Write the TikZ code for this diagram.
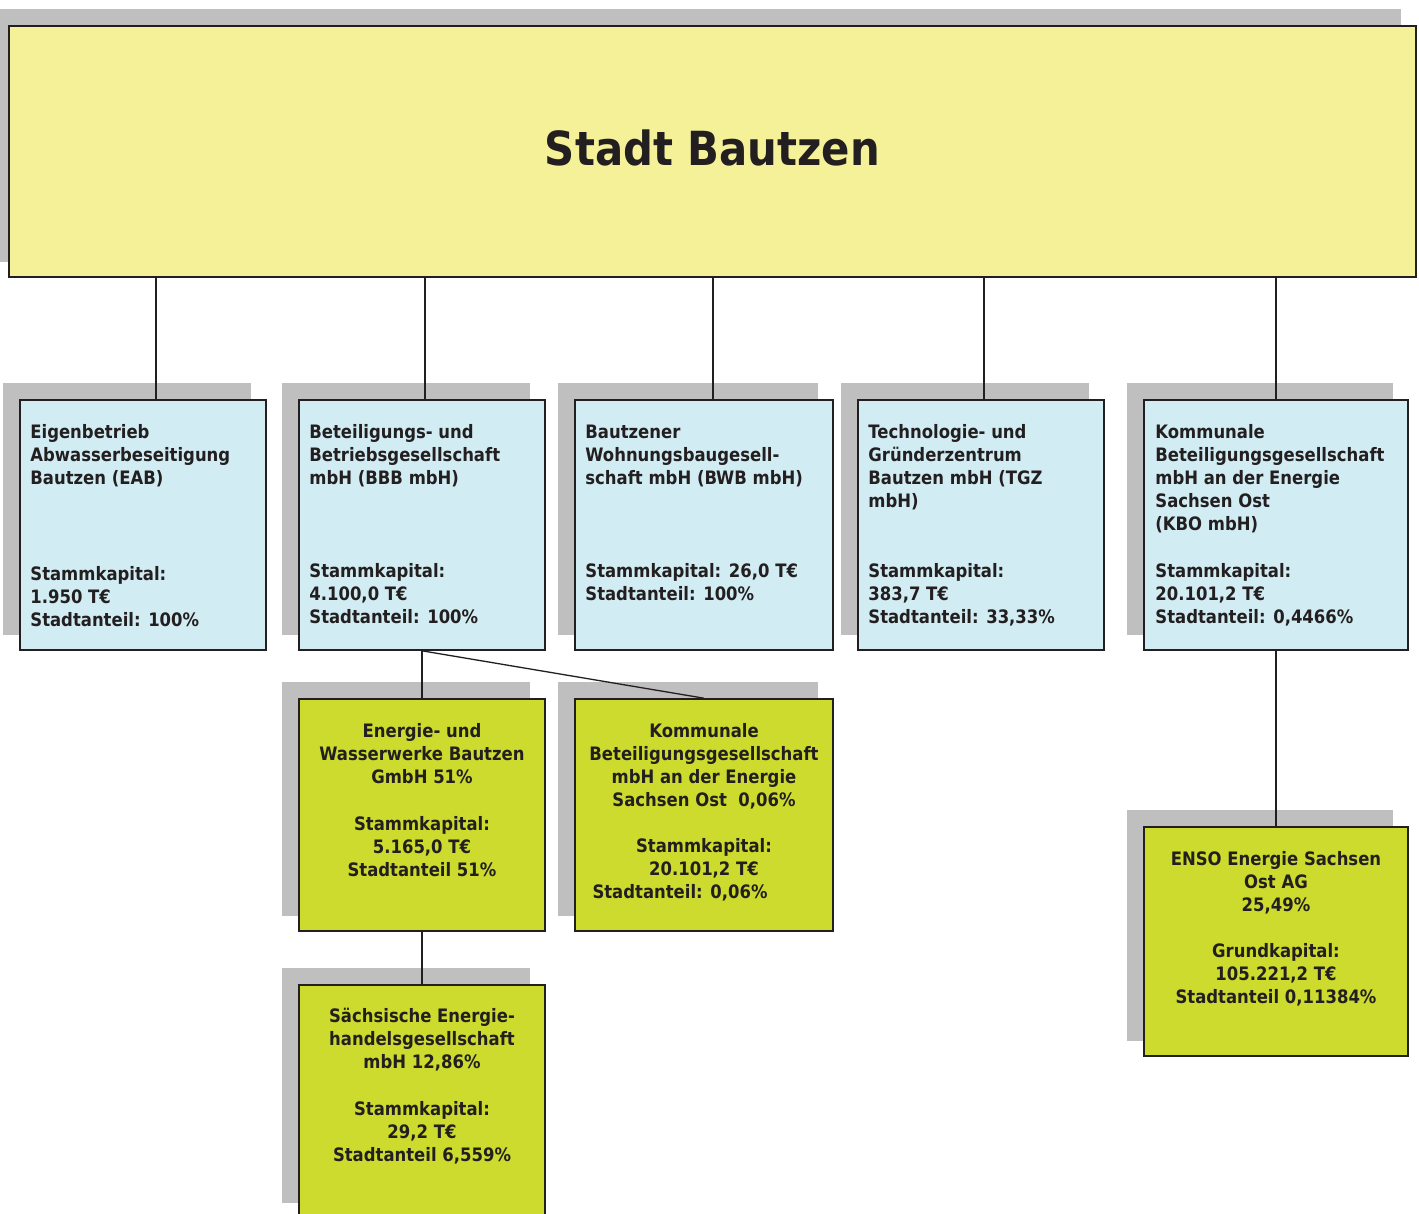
\documentclass[tikz,border=0pt]{standalone}
\usepackage{fontspec}
\setmainfont{DejaVu Sans}[FakeStretch=0.89]
\usetikzlibrary{backgrounds,calc}
\definecolor{ylw}{RGB}{245,241,153}
\definecolor{blu}{RGB}{209,236,242}
\definecolor{grn}{RGB}{204,219,46}
\definecolor{shd}{RGB}{191,191,191}
\definecolor{ink}{RGB}{35,31,32}
\newcommand{\firststrut}{\rule{0pt}{16pt}}
\tikzset{
  boxbase/.style={draw=ink, line width=1.6pt, inner sep=0pt},
  bx/.style n args={2}{minimum width=#1pt, minimum height=#2pt},
  topbox/.style={boxbase, fill=ylw},
  titletxt/.style={inner sep=0pt, text=ink, font=\bfseries\fontsize{47}{56}\selectfont},
  bluebox/.style={boxbase, fill=blu},
  greenbox/.style={boxbase, fill=grn},
  txt/.style={inner sep=0pt, text=ink, font=\bfseries\fontsize{18.5}{23}\selectfont},
  lefttxt/.style={txt, align=left, anchor=north west},
  ctrtxt/.style={txt, align=center, anchor=north},
  conn/.style={draw=ink, line width=1.3pt},
}
\begin{document}
\begin{tikzpicture}[x=1pt, y=-1pt]
\useasboundingbox (0,0) rectangle (1419,1213);

% boxes
\node[topbox, bx={1407}{251}] (top) at (712.5,151.5) {};
\node[titletxt] (title) at ($(top.center)+(0,-4)$) {Stadt Bautzen};

\node[bluebox, bx={246}{250}] (b1) at (143,525) {};
\node[bluebox, bx={246}{250}] (b2) at (422,525) {};
\node[bluebox, bx={258}{250}] (b3) at (704,525) {};
\node[bluebox, bx={246}{250}] (b4) at (981,525) {};
\node[bluebox, bx={264}{250}] (b5) at (1276,525) {};

\node[greenbox, bx={246}{232}] (g1) at (422,815) {};
\node[greenbox, bx={258}{232}] (g2) at (704,815) {};
\node[greenbox, bx={246}{233}] (g3) at (422,1101.5) {};
\node[greenbox, bx={264}{229}] (g4) at (1276,941.5) {};

% texts
\node[lefttxt] (t1) at ($(b1.north west)+(11,23)$) {\firststrut Eigenbetrieb\\
Abwasserbeseitigung\\
Bautzen (EAB)\\[73pt]
Stammkapital:\\
1.950 T€\\
Stadtanteil: 100\%};

\node[lefttxt] (t2) at ($(b2.north west)+(11,23)$) {\firststrut Beteiligungs- und\\
Betriebsgesellschaft\\
mbH (BBB mbH)\\[70pt]
Stammkapital:\\
4.100,0 T€\\
Stadtanteil: 100\%};

\node[lefttxt] (t3) at ($(b3.north west)+(11,23)$) {\firststrut Bautzener\\
Wohnungsbaugesell-\\
schaft mbH (BWB mbH)\\[70pt]
Stammkapital: 26,0 T€\\
Stadtanteil: 100\%};

\node[lefttxt] (t4) at ($(b4.north west)+(11,23)$) {\firststrut Technologie- und\\
Gründerzentrum\\
Bautzen mbH (TGZ\\
mbH)\\[47pt]
Stammkapital:\\
383,7 T€\\
Stadtanteil: 33,33\%};

\node[lefttxt] (t5) at ($(b5.north west)+(12,23)$) {\firststrut Kommunale\\
Beteiligungsgesellschaft\\
mbH an der Energie\\
Sachsen Ost\\
(KBO mbH)\\[24pt]
Stammkapital:\\
20.101,2 T€\\
Stadtanteil: 0,4466\%};

\node[ctrtxt] (u1) at ($(g1.north)+(0,23)$) {\firststrut Energie- und\\
Wasserwerke Bautzen\\
GmbH 51\%\\[24pt]
Stammkapital:\\
5.165,0 T€\\
Stadtanteil 51\%};

\node[ctrtxt] (u2) at ($(g2.north)+(0,23)$) {\firststrut Kommunale\\
Beteiligungsgesellschaft\\
mbH an der Energie\\
Sachsen Ost\ \ 0,06\%\\[23pt]
Stammkapital:\\
20.101,2 T€\hspace*{26pt}\\
Stadtanteil: 0,06\%\hspace*{48pt}};

\node[ctrtxt] (u3) at ($(g3.north)+(0,22)$) {\firststrut Sächsische Energie-\\
handelsgesellschaft\\
mbH 12,86\%\\[24pt]
Stammkapital:\\
29,2 T€\\
Stadtanteil 6,559\%};

\node[ctrtxt] (u4) at ($(g4.north)+(0,23)$) {\firststrut ENSO Energie Sachsen\\
Ost AG\\
25,49\%\\[23pt]
Grundkapital:\\
105.221,2 T€\\
Stadtanteil 0,11384\%};

% connector x positions
\coordinate (x1) at (156,0);
\coordinate (x2) at (425,0);
\coordinate (x3) at (713,0);
\coordinate (x4) at (984,0);
\coordinate (x5) at (1276,0);

\draw[conn] (top.south -| x1) -- (b1.north -| x1);
\draw[conn] (top.south -| x2) -- (b2.north -| x2);
\draw[conn] (top.south -| x3) -- (b3.north -| x3);
\draw[conn] (top.south -| x4) -- (b4.north -| x4);
\draw[conn] (top.south -| x5) -- (b5.north -| x5);
\draw[conn] (b2.south) -- (g1.north);
\draw[conn] (b2.south) -- (g2.north);
\draw[conn] (g1.south) -- (g3.north);
\draw[conn] (b5.south) -- (g4.north);

% shadows
\begin{scope}[on background layer]
  \fill[white] (0,0) rectangle (1419,1213);
  \foreach \n in {top,b1,b2,b3,b4,b5,g1,g2,g3,g4}
    \fill[shd] ($(\n.north west)+(-16,-16)$) rectangle ($(\n.south east)+(-16,-16)$);
\end{scope}
\end{tikzpicture}
\end{document}
